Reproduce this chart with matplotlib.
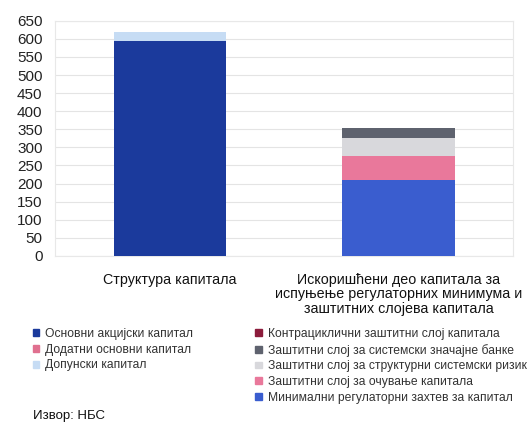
import numpy as np
import matplotlib
matplotlib.use("Agg")
from matplotlib import pyplot as plt
from matplotlib.patches import Patch

plt.rcParams['font.family'] = ['Liberation Sans', 'DejaVu Sans']

# -------------------------- podaci --------------------------
kategorije = ['Структура капитала',
              'Искоришћени део капитала за\nиспуњење регулаторних минимума и\nзаштитних слојева капитала']

# struktura kapitala (prvi stubac)
osnovni_akcijski = [593, 0]
dodatni_osnovni = [1, 0]
dopunski = [24, 0]

# iskorisceni deo (drugi stubac)
minimalni = [0, 210]
ocuvanje = [0, 67]
strukturni = [0, 49]
sistemski = [0, 28]
kontraciklicni = [0, 0]

yticks = list(range(0, 651, 50))

boje = {
    'osnovni': '#1b3a9c',
    'dodatni': '#e0708f',
    'dopunski': '#c6dcf4',
    'kontra': '#8c1c3c',
    'sistemski': '#5e626e',
    'strukturni': '#d8d8dc',
    'ocuvanje': '#e9789b',
    'minimalni': '#3a5dcf',
}

fig = plt.figure(figsize=(5.3, 4.25), dpi=100)
ax = fig.add_axes([0.104, 0.398, 0.864, 0.553])

x = np.arange(len(kategorije))
w = 0.49

serije = [
    (osnovni_akcijski, boje['osnovni']),
    (dodatni_osnovni, boje['dodatni']),
    (dopunski, boje['dopunski']),
    (minimalni, boje['minimalni']),
    (ocuvanje, boje['ocuvanje']),
    (strukturni, boje['strukturni']),
    (sistemski, boje['sistemski']),
    (kontraciklicni, boje['kontra']),
]
dno = np.zeros(len(kategorije))
for vals, c in serije:
    ax.bar(x, vals, w, bottom=dno, color=c, zorder=3)
    dno = dno + np.array(vals)

ax.set_xlim(-0.5, 1.5)
ax.set_ylim(0, 650)
ax.set_yticks(yticks)
ax.tick_params(axis='y', length=0, labelsize=11, colors='#222222', pad=9)
ax.tick_params(axis='x', length=0, labelsize=10.3, colors='#111111', pad=12)
ax.set_xticks(x)
ax.set_xticklabels(kategorije, linespacing=1.05)
ax.grid(axis='y', color='#e4e4e4', linewidth=0.8, zorder=0)
for s in ax.spines.values():
    s.set_color('#e8e8e8')
    s.set_linewidth(0.8)

# -------------------------- legende --------------------------
lev = [Patch(color=boje['osnovni'], label='Основни акцијски капитал'),
       Patch(color=boje['dodatni'], label='Додатни основни капитал'),
       Patch(color=boje['dopunski'], label='Допунски капитал')]
desno = [Patch(color=boje['kontra'], label='Контрациклични заштитни слој капитала'),
         Patch(color=boje['sistemski'], label='Заштитни слој за системски значајне банке'),
         Patch(color=boje['strukturni'], label='Заштитни слој за структурни системски ризик'),
         Patch(color=boje['ocuvanje'], label='Заштитни слој за очување капитала'),
         Patch(color=boje['minimalni'], label='Минимални регулаторни захтев за капитал')]

kw = dict(frameon=False, fontsize=8.7, handlelength=0.5, handleheight=0.5,
          handletextpad=0.5, labelspacing=0.3, borderpad=0, borderaxespad=0)
fig.legend(handles=lev, loc='upper left', bbox_to_anchor=(0.062, 0.228), labelcolor='#333333', **kw)
fig.legend(handles=desno, loc='upper left', bbox_to_anchor=(0.482, 0.228), labelcolor='#333333', **kw)

fig.text(0.062, 0.006, 'Извор: НБС', fontsize=9.5, va='bottom', ha='left', color='#111111')

plt.savefig('out.png', dpi=100)
